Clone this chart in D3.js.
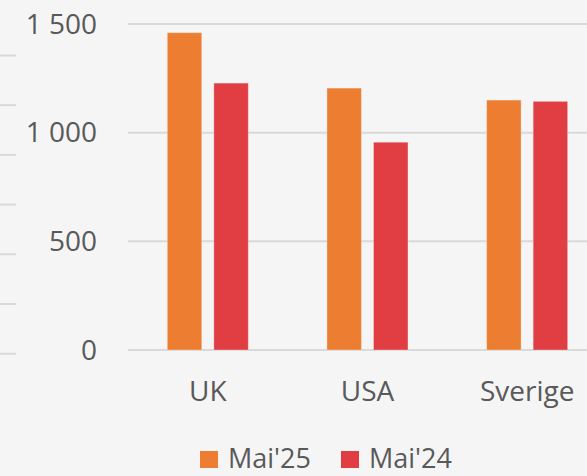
<!DOCTYPE html>
<html>
<head>
<meta charset="utf-8">
<script src="https://cdn.jsdelivr.net/npm/d3@7"></script>
<style>
  body { margin: 0; background: #f5f5f5; }
  svg { display: block; font-family: "Open Sans", sans-serif; }
</style>
</head>
<body>
<script>
// chart data
const categories = ["UK", "USA", "Sverige"];
const seriesNames = ["Mai'25", "Mai'24"];
const mai25 = [1460, 1205, 1150];
const mai24 = [1228, 956, 1144];
const yTicks = [0, 500, 1000, 1500];
const colors = ["#ed7d31", "#e03e42"];

const width = 587;
const height = 476;

const svg = d3.select("body")
  .append("svg")
  .attr("width", width)
  .attr("height", height);

svg.append("rect")
  .attr("width", width)
  .attr("height", height)
  .attr("fill", "#f5f5f5");

// scales
const x = d3.scaleBand()
  .domain(categories)
  .range([128, 607])
  .paddingInner(0)
  .paddingOuter(0);

const xInner = d3.scaleBand()
  .domain(seriesNames)
  .range([39.3, 120.3])
  .paddingInner(0.26);

const y = d3.scaleLinear()
  .domain([0, 1500])
  .range([350, 24]);

// short marks on the left edge
const edgeMarks = d3.range(7).map(i => 55.5 + i * 49.7);
svg.selectAll(".edge")
  .data(edgeMarks)
  .enter()
  .append("line")
  .attr("class", "edge")
  .attr("x1", 0)
  .attr("x2", 16)
  .attr("y1", d => d)
  .attr("y2", d => d)
  .attr("stroke", "#d9d9d9")
  .attr("stroke-width", 2);

// gridlines
svg.selectAll(".grid")
  .data(yTicks)
  .enter()
  .append("line")
  .attr("class", "grid")
  .attr("x1", 128)
  .attr("x2", width)
  .attr("y1", d => y(d))
  .attr("y2", d => y(d))
  .attr("stroke", "#d9d9d9")
  .attr("stroke-width", 2);

// y labels
const fmt = v => d3.format(",")(v).replace(/,/g, " ");
svg.selectAll(".ylab")
  .data(yTicks)
  .enter()
  .append("text")
  .attr("class", "ylab")
  .attr("x", 97)
  .attr("y", d => y(d))
  .attr("dy", "0.35em")
  .attr("text-anchor", "end")
  .attr("font-size", 28)
  .attr("fill", "#595959")
  .text(fmt);

// bars
const rows = categories.map((c, i) => ({ cat: c, values: [mai25[i], mai24[i]] }));
const groups = svg.selectAll(".group")
  .data(rows)
  .enter()
  .append("g")
  .attr("class", "group")
  .attr("transform", d => `translate(${x(d.cat)},0)`);

groups.selectAll("rect")
  .data(d => d.values.map((v, j) => ({ name: seriesNames[j], value: v, j })))
  .enter()
  .append("rect")
  .attr("x", d => xInner(d.name))
  .attr("width", xInner.bandwidth())
  .attr("y", d => y(d.value))
  .attr("height", d => y(0) - y(d.value))
  .attr("fill", d => colors[d.j])
  .attr("stroke", "rgba(255,255,255,0.3)")
  .attr("stroke-width", 1);

// category labels
svg.selectAll(".xlab")
  .data(categories)
  .enter()
  .append("text")
  .attr("class", "xlab")
  .attr("x", d => x(d) + x.bandwidth() / 2)
  .attr("y", 401)
  .attr("text-anchor", "middle")
  .attr("font-size", 28)
  .attr("fill", "#595959")
  .text(d => d);

// legend (kept a few px above the bottom edge)
const legendX = [200, 341];
const legend = svg.selectAll(".legend")
  .data(seriesNames)
  .enter()
  .append("g")
  .attr("class", "legend")
  .attr("transform", (d, i) => `translate(${legendX[i]},451)`);

legend.append("rect")
  .attr("width", 18)
  .attr("height", 17)
  .attr("fill", (d, i) => colors[i]);

legend.append("text")
  .attr("x", 28)
  .attr("y", 17)
  .attr("font-size", 27)
  .attr("fill", "#595959")
  .text(d => d);
</script>
</body>
</html>
